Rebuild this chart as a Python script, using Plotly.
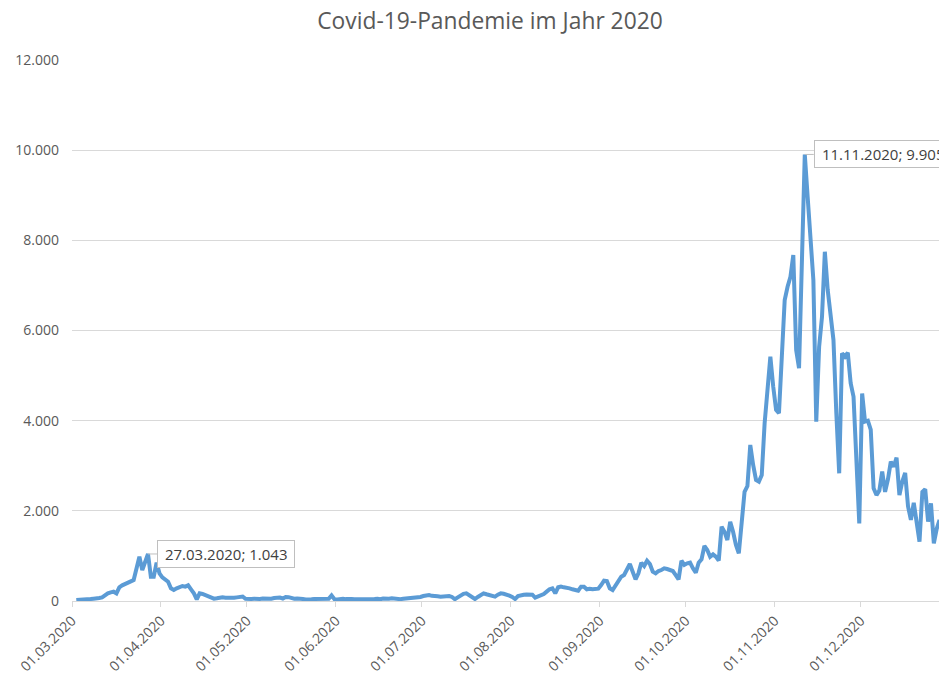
import pandas as pd
import plotly.graph_objects as go

# ---- data (daily new cases) ----
start_date = "2020-03-02"

cases_mar = [22, 22, 30, 37, 37, 44, 52, 52, 66, 81, 133, 170, 192, 207, 170,
             303, 347, 384, 421, 436, 465, 687, 983, 687, 872, 1043, 540, 540, 850, 613]
cases_apr = [525, 480, 429, 281, 244, 281, 318, 333, 318, 347, 259, 170, 37, 170, 155,
             126, 96, 74, 52, 59, 74, 81, 74, 66, 60, 70, 80, 90, 100, 50]
cases_may = [40, 45, 50, 42, 45, 55, 48, 60, 50, 65, 70, 75, 55, 90, 85, 60, 50, 55,
             40, 45, 35, 48, 40, 45, 50, 42, 38, 45, 50, 125, 40]
cases_jun = [35, 45, 50, 42, 52, 45, 40, 38, 45, 37, 42, 48, 40, 44, 50, 38, 55, 45,
             52, 60, 48, 55, 40, 52, 58, 66, 60, 75, 70, 90]
cases_jul = [110, 125, 133, 115, 100, 105, 96, 100, 110, 111, 90, 40, 80, 130, 160,
             170, 130, 90, 44, 90, 140, 170, 150, 133, 120, 96, 140, 170, 160, 148, 120]
cases_aug = [90, 44, 110, 133, 140, 145, 148, 140, 74, 100, 111, 155, 207, 259, 281,
             170, 303, 318, 303, 303, 281, 259, 244, 229, 318, 318, 259, 273, 259, 266, 273]
cases_sep = [355, 451, 443, 281, 244, 355, 466, 540, 576, 702, 820, 650, 480, 613, 850,
             776, 894, 820, 650, 613, 665, 687, 724, 709, 687, 665, 576, 480, 894, 800]
cases_oct = [835, 850, 724, 628, 850, 924, 1219, 1131, 983, 1035, 983, 894, 1648, 1537,
             1352, 1759, 1537, 1241, 1057, 1722, 2420, 2550, 3461, 3018, 2685, 2648, 2796,
             3942, 4755, 5420, 4755]
cases_nov = [4238, 4164, 5420, 6676, 6971, 7193, 7673, 5568, 5162, 7600, 9905, 8964,
             8077, 7118, 3975, 5636, 6300, 7747, 6897, 6306, 5790, 4164, 2833, 5494, 5420,
             5509, 4829, 4533, 3055, 1722]
cases_dec = [4604, 3980, 4000, 3800, 2500, 2350, 2450, 2870, 2420, 2700, 3090, 2980,
             3180, 2350, 2650, 2840, 2100, 1800, 2180, 1700, 1316, 2420, 2480, 1760, 2165,
             1280, 1600, 1800]

tick_dates = pd.date_range("2020-03-01", "2020-12-01", freq="MS")
tick_labels = [d.strftime("%d.%m.%Y") for d in tick_dates]

title_text = "Covid-19-Pandemie im Jahr 2020"

cases = (cases_mar + cases_apr + cases_may + cases_jun + cases_jul + cases_aug
         + cases_sep + cases_oct + cases_nov + cases_dec)
days = pd.date_range(start_date, periods=len(cases), freq="D")
# Excel date axis puts each day's point in the middle of its day slot
xpos = days + pd.Timedelta(hours=12)

GRAY_TXT = "#595959"
GRID = "#d9d9d9"
FONT = "Open Sans"

fig = go.Figure()
fig.add_trace(go.Scatter(
    x=xpos, y=cases, mode="lines",
    line=dict(color="#5b9bd5", width=4),
    showlegend=False,
    hovertemplate="%{x|%d.%m.%Y}: %{y}<extra></extra>",
))


def fmt(v):
    return f"{v:,}".replace(",", ".")


# data labels: spring peak and overall peak
spring = cases[:len(cases_mar) + len(cases_apr)]
i_spring = spring.index(max(spring))
i_peak = cases.index(max(cases))
for i in (i_spring, i_peak):
    fig.add_annotation(
        x=xpos[i], y=cases[i], xref="x", yref="y",
        text="\u00a0" + f"{days[i].strftime('%d.%m.%Y')}; {fmt(cases[i])}" + "\u00a0",
        showarrow=True, arrowhead=0, arrowwidth=1, arrowcolor="#bfbfbf",
        ax=9, ay=0, standoff=0, xanchor="left", yanchor="middle",
        font=dict(family=FONT, size=15, color="#404040"),
        bgcolor="white", bordercolor="#bfbfbf", borderwidth=1, borderpad=3,
    )

x_end = pd.Timestamp("2020-03-01") + pd.Timedelta(days=302.3)

fig.update_layout(
    width=939, height=675,
    margin=dict(l=72, r=0, t=60, b=74),
    paper_bgcolor="white", plot_bgcolor="white",
    separators=",.",
    title=dict(text=title_text, x=490 / 939, xref="container", xanchor="center",
               y=1 - 21 / 675, yref="container", yanchor="middle",
               font=dict(family=FONT, size=22.8, color=GRAY_TXT)),
    font=dict(family=FONT, size=14, color=GRAY_TXT),
)
fig.update_xaxes(
    type="date", range=[pd.Timestamp("2020-03-01"), x_end],
    tickmode="array", tickvals=tick_dates, ticktext=tick_labels, tickangle=-45,
    showgrid=False, showline=True, linecolor=GRID, linewidth=1,
    ticks="outside", ticklen=5, tickcolor=GRID, tickwidth=1,
    tickfont=dict(family=FONT, size=14, color=GRAY_TXT),
    zeroline=False,
)
fig.update_yaxes(
    range=[0, 12000], dtick=2000, tick0=0, tickformat=",d",
    showgrid=True, gridcolor=GRID, gridwidth=1,
    zeroline=False, showline=False, ticks="",
    ticklabelstandoff=12,
    tickfont=dict(family=FONT, size=14, color=GRAY_TXT),
)

fig.write_html("out.html")
